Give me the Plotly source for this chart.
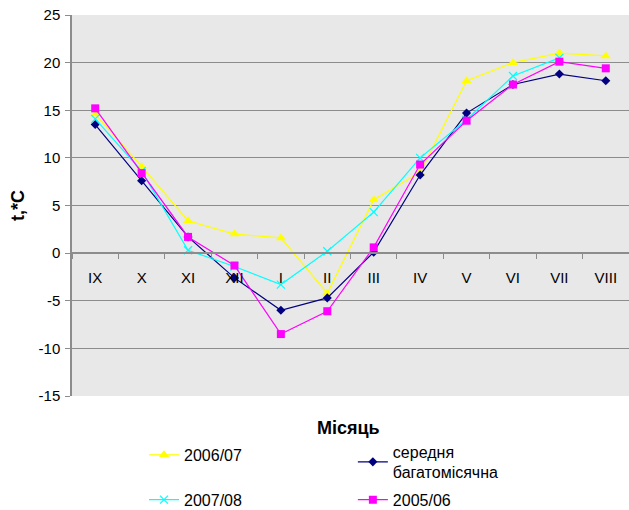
import plotly.graph_objects as go

# Months of the hydrological year (September to August)
months = ["IX", "X", "XI", "XII", "I", "II", "III", "IV", "V", "VI", "VII", "VIII"]

# Mean monthly air temperature, °C
t_2006_07 = [14.6, 9.1, 3.4, 2.0, 1.6, -4.2, 5.6, 8.5, 18.1, 20.0, 21.0, 20.7]
t_mean = [13.5, 7.6, 1.7, -2.6, -6.0, -4.7, 0.1, 8.2, 14.7, 17.7, 18.8, 18.1]
t_2007_08 = [14.1, 8.6, 0.3, -1.4, -3.3, 0.2, 4.3, 10.0, 14.0, 18.6, 20.5, None]
t_2005_06 = [15.2, 8.4, 1.7, -1.3, -8.5, -6.1, 0.6, 9.3, 13.9, 17.7, 20.1, 19.4]

y_ticks = [25, 20, 15, 10, 5, 0, -5, -10, -15]
y_min, y_max = -15, 25

FONT = "Liberation Sans, Arial, sans-serif"

fig = go.Figure()

series = [
    ("2006/07", t_2006_07, "#FFFF00", dict(symbol="triangle-up", size=9), "legend"),
    ("середня<br>багатомісячна", t_mean, "#000080", dict(symbol="diamond", size=7), "legend2"),
    ("2007/08", t_2007_08, "#00FFFF", dict(symbol="x-thin", size=8, line=dict(width=1.2, color="#00FFFF")), "legend3"),
    ("2005/06", t_2005_06, "#FF00FF", dict(symbol="square", size=8), "legend4"),
]

for name, vals, color, marker, leg in series:
    fig.add_trace(go.Scatter(
        x=months, y=vals, name=name, mode="lines+markers",
        line=dict(color=color, width=1.2),
        marker=dict(color=color, **marker),
        connectgaps=False, legend=leg,
    ))

zero_pos = (0 - y_min) / (y_max - y_min)

legend_common = dict(
    font=dict(family=FONT, size=16, color="#000000"),
    bgcolor="rgba(0,0,0,0)", xanchor="left", yanchor="middle",
    xref="container", yref="container",
    itemwidth=30, tracegroupgap=0,
)

fig.update_layout(
    width=629, height=510,
    margin=dict(l=72, r=0, t=15, b=114, autoexpand=False),
    paper_bgcolor="#FFFFFF",
    plot_bgcolor="#E8E8E8",
    font=dict(family=FONT, size=15, color="#000000"),
    xaxis=dict(
        type="category", categoryorder="array", categoryarray=months,
        range=[-0.5, len(months) - 0.5],
        anchor="free", position=zero_pos,
        showgrid=False, zeroline=False,
        showline=True, linecolor="#8C8C8C", linewidth=1.5,
        ticks="outside", tickson="boundaries", ticklen=5, tickcolor="#8C8C8C",
        ticklabelstandoff=11,
        tickfont=dict(family=FONT, size=15, color="#000000"),
    ),
    yaxis=dict(
        range=[y_min, y_max], tickvals=y_ticks,
        ticktext=[str(v) for v in y_ticks],
        showgrid=True, gridcolor="#8C8C8C", gridwidth=1.2,
        zeroline=False,
        showline=True, linecolor="#8C8C8C", linewidth=1.5,
        ticks="outside", ticklen=5, tickcolor="#8C8C8C",
        ticklabelstandoff=2,
        tickfont=dict(family=FONT, size=15, color="#000000"),
    ),
    legend=dict(x=0.229, y=0.108, **legend_common),
    legend2=dict(x=0.561, y=0.094, **legend_common),
    legend3=dict(x=0.229, y=0.02, **legend_common),
    legend4=dict(x=0.561, y=0.02, **legend_common),
    annotations=[
        dict(
            text="<b>Місяць</b>", xref="paper", yref="paper",
            x=0.497, y=-0.084, xanchor="center", yanchor="middle",
            showarrow=False, font=dict(family=FONT, size=18, color="#000000"),
        ),
        dict(
            text="<b>t,*C</b>", xref="paper", yref="paper",
            x=-0.097, y=0.501, xanchor="center", yanchor="middle",
            textangle=-90,
            showarrow=False, font=dict(family=FONT, size=18, color="#000000"),
        ),
    ],
    showlegend=True,
)

fig.write_html("out.html")
